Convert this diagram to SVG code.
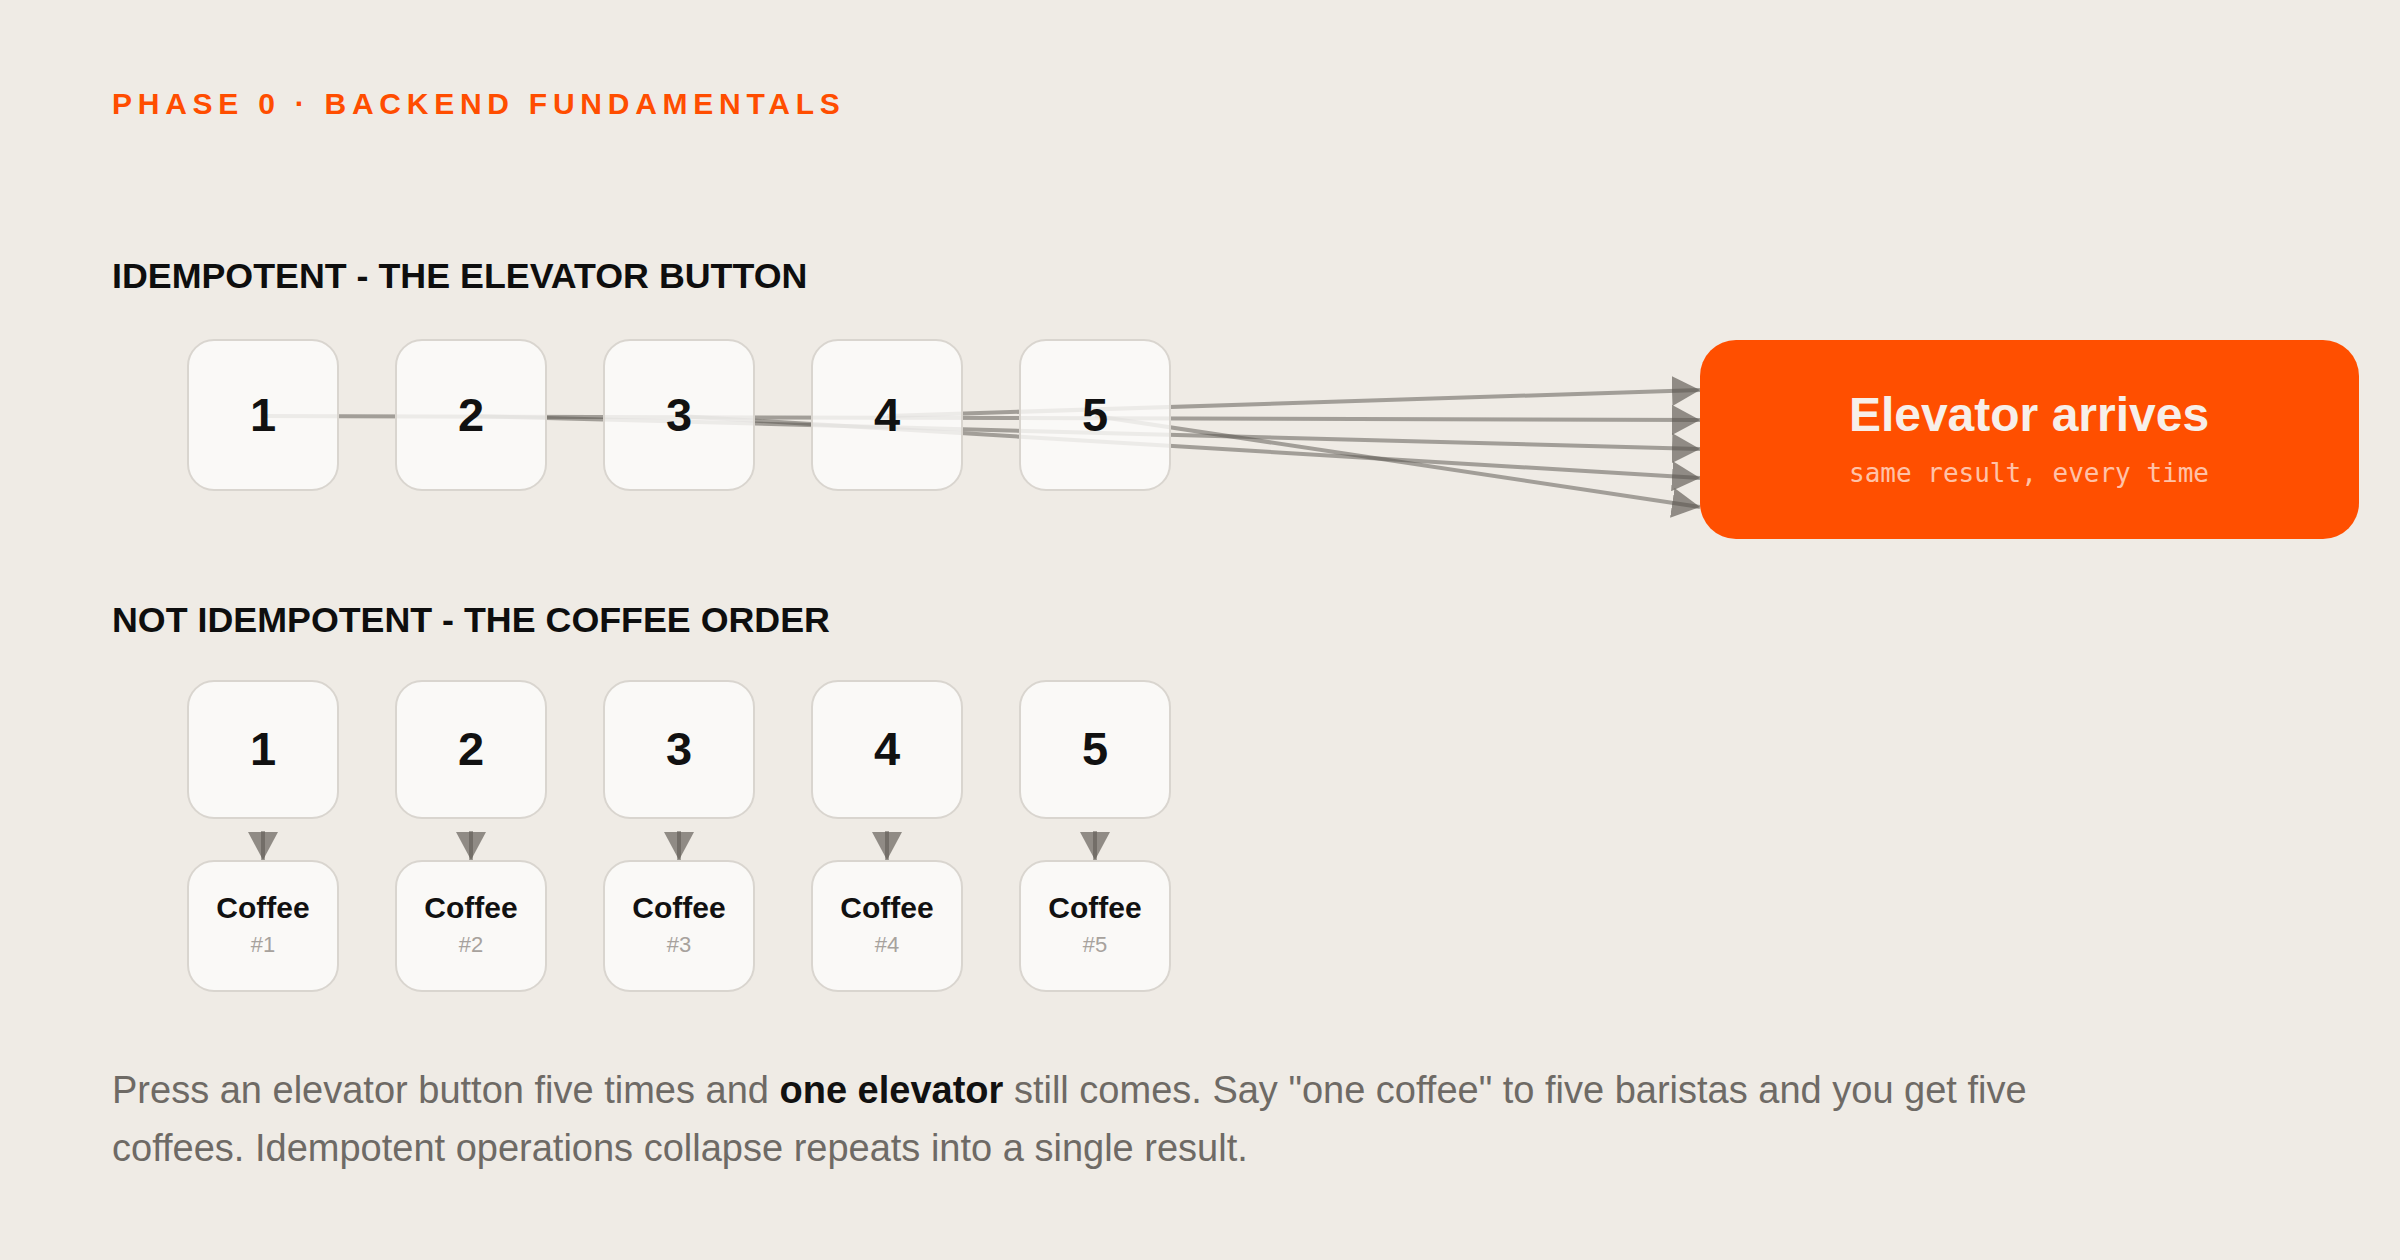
<svg xmlns="http://www.w3.org/2000/svg" width="2400" height="1260" viewBox="0 0 2400 1260">
<defs>
<style>
.bg{fill:#EFEBE5}
.box{fill:#FCFBFA;fill-opacity:0.82;stroke:#D9D5CF;stroke-width:2}
.num{font-family:"Liberation Sans",Arial,sans-serif;font-weight:bold;font-size:47px;fill:#111;text-anchor:middle}
.cof{font-family:"Liberation Sans",Arial,sans-serif;font-weight:bold;font-size:30px;fill:#111;text-anchor:middle}
.sub{font-family:"Liberation Sans",Arial,sans-serif;font-size:22px;fill:#A7A29D;text-anchor:middle}
.kicker{font-family:"Liberation Sans",Arial,sans-serif;font-weight:bold;font-size:30px;fill:#FF4D00;letter-spacing:5.75px}
.head{font-family:"Liberation Sans",Arial,sans-serif;font-weight:bold;font-size:35.8px;fill:#0E0E0E}
.body{font-family:"Liberation Sans",Arial,sans-serif;font-size:38px;fill:#6E6A65}
.edge{stroke:#55514B;stroke-opacity:0.5;stroke-width:4;fill:none;marker-end:url(#arr)}
</style>
<marker id="arr" markerUnits="userSpaceOnUse" markerWidth="28" markerHeight="30" refX="28" refY="15" orient="auto">
<path d="M0,0 L28,15 L0,30 Z" fill="#55514B" fill-opacity="0.62"/>
</marker>
</defs>
<rect class="bg" x="0" y="0" width="2400" height="1260"/>
<text class="kicker" x="112" y="114">PHASE 0 · BACKEND FUNDAMENTALS</text>
<text class="head" x="112" y="288">IDEMPOTENT - THE ELEVATOR BUTTON</text>
<text class="head" x="112" y="632">NOT IDEMPOTENT - THE COFFEE ORDER</text>
<g id="connectors">
<line class="edge" x1="263" y1="416" x2="1700" y2="420"/>
<line class="edge" x1="471" y1="416" x2="1700" y2="449"/>
<line class="edge" x1="679" y1="416" x2="1700" y2="478"/>
<line class="edge" x1="887" y1="416" x2="1700" y2="390"/>
<line class="edge" x1="1095" y1="416" x2="1700" y2="507"/>
<line class="edge" x1="263" y1="831" x2="263" y2="860"/>
<line class="edge" x1="471" y1="831" x2="471" y2="860"/>
<line class="edge" x1="679" y1="831" x2="679" y2="860"/>
<line class="edge" x1="887" y1="831" x2="887" y2="860"/>
<line class="edge" x1="1095" y1="831" x2="1095" y2="860"/>
</g>
<g id="btn1"><rect class="box" x="188" y="340" width="150" height="150" rx="26"/><text class="num" x="263" y="431">1</text></g>
<g id="btn2"><rect class="box" x="396" y="340" width="150" height="150" rx="26"/><text class="num" x="471" y="431">2</text></g>
<g id="btn3"><rect class="box" x="604" y="340" width="150" height="150" rx="26"/><text class="num" x="679" y="431">3</text></g>
<g id="btn4"><rect class="box" x="812" y="340" width="150" height="150" rx="26"/><text class="num" x="887" y="431">4</text></g>
<g id="btn5"><rect class="box" x="1020" y="340" width="150" height="150" rx="26"/><text class="num" x="1095" y="431">5</text></g>
<g id="elevator"><rect x="1700" y="340" width="659" height="199" rx="36" fill="#FF4F00"/>
<text x="2029" y="431" font-family="'Liberation Sans',Arial,sans-serif" font-weight="bold" font-size="48" fill="#F7EFE9" text-anchor="middle">Elevator arrives</text>
<text x="2029" y="482" font-family="'DejaVu Sans Mono','Liberation Mono',monospace" font-size="26" fill="#FFFFFF" fill-opacity="0.68" text-anchor="middle">same result, every time</text></g>
<g id="order1"><rect class="box" x="188" y="681" width="150" height="137" rx="26"/><text class="num" x="263" y="765">1</text></g>
<g id="order2"><rect class="box" x="396" y="681" width="150" height="137" rx="26"/><text class="num" x="471" y="765">2</text></g>
<g id="order3"><rect class="box" x="604" y="681" width="150" height="137" rx="26"/><text class="num" x="679" y="765">3</text></g>
<g id="order4"><rect class="box" x="812" y="681" width="150" height="137" rx="26"/><text class="num" x="887" y="765">4</text></g>
<g id="order5"><rect class="box" x="1020" y="681" width="150" height="137" rx="26"/><text class="num" x="1095" y="765">5</text></g>
<g id="coffee1"><rect class="box" x="188" y="861" width="150" height="130" rx="26"/><text class="cof" x="263" y="918">Coffee</text><text class="sub" x="263" y="952">#1</text></g>
<g id="coffee2"><rect class="box" x="396" y="861" width="150" height="130" rx="26"/><text class="cof" x="471" y="918">Coffee</text><text class="sub" x="471" y="952">#2</text></g>
<g id="coffee3"><rect class="box" x="604" y="861" width="150" height="130" rx="26"/><text class="cof" x="679" y="918">Coffee</text><text class="sub" x="679" y="952">#3</text></g>
<g id="coffee4"><rect class="box" x="812" y="861" width="150" height="130" rx="26"/><text class="cof" x="887" y="918">Coffee</text><text class="sub" x="887" y="952">#4</text></g>
<g id="coffee5"><rect class="box" x="1020" y="861" width="150" height="130" rx="26"/><text class="cof" x="1095" y="918">Coffee</text><text class="sub" x="1095" y="952">#5</text></g>
<text class="body" x="112" y="1103">Press an elevator button five times and <tspan font-weight="bold" fill="#111">one elevator</tspan> still comes. Say "one coffee" to five baristas and you get five</text>
<text class="body" x="112" y="1161">coffees. Idempotent operations collapse repeats into a single result.</text>
</svg>
